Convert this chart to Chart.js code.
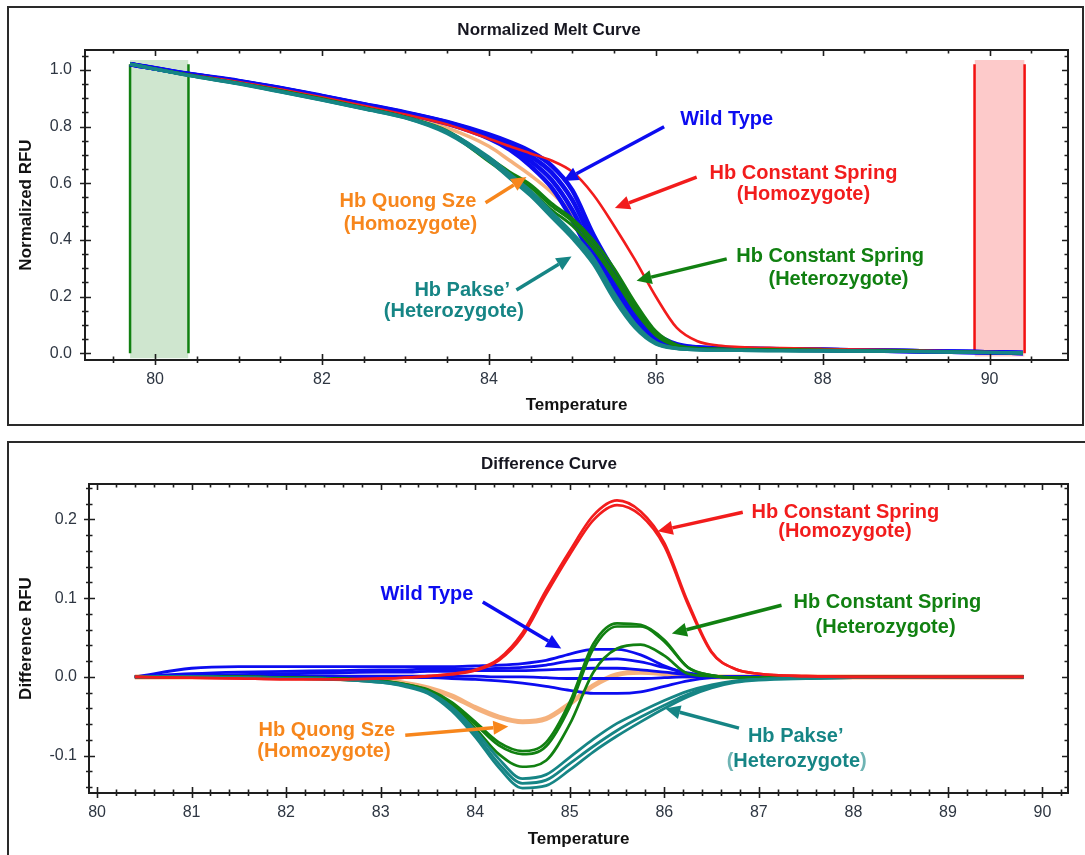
<!DOCTYPE html>
<html>
<head>
<meta charset="utf-8">
<title>Melt curves</title>
<script src="https://cdn.jsdelivr.net/npm/chart.js@4.4.1/dist/chart.umd.min.js"></script>
<style>
  html, body { margin: 0; padding: 0; background: #fff; overflow: hidden; }
  body { width: 1085px; height: 855px; position: relative; }
  .panel { position: absolute; border: 2px solid #2a2a2a; box-sizing: border-box; }
  #topPanel { left: 7px; top: 6px; width: 1077px; height: 420px; }
  #bottomPanel { left: 7px; top: 441px; width: 1100px; height: 440px; }
  canvas { position: absolute; left: 0; }
  #meltChart { top: 0; }
  #diffChart { top: 430px; }
</style>
</head>
<body>
<div class="panel" id="topPanel"></div>
<div class="panel" id="bottomPanel"></div>
<canvas id="meltChart" width="1085" height="430"></canvas>
<canvas id="diffChart" width="1085" height="425"></canvas>

<script>
const FONT = '"Liberation Sans", Arial, sans-serif';

// ---- normalized melt curve (temperature in °C) ----
const meltTemps = [79.7, 80.4, 81, 81.5, 82, 82.5, 83, 83.5, 84, 84.25, 84.5, 84.75, 85, 85.25, 85.5, 85.75, 86, 86.25, 86.5, 86.75, 87, 87.5, 88, 89, 89.8, 90.4];

const wtMelt1 = [1.020, 0.984, 0.958, 0.933, 0.905, 0.876, 0.846, 0.810, 0.758, 0.718, 0.660, 0.585, 0.470, 0.330, 0.215, 0.105, 0.042, 0.022, 0.018, 0.016, 0.015, 0.013, 0.011, 0.008, 0.004, 0.001];
const wtMelt2 = [1.020, 0.985, 0.959, 0.934, 0.906, 0.877, 0.847, 0.812, 0.763, 0.726, 0.678, 0.612, 0.505, 0.360, 0.240, 0.125, 0.050, 0.025, 0.019, 0.017, 0.015, 0.013, 0.011, 0.008, 0.004, 0.001];
const wtMelt3 = [1.020, 0.985, 0.960, 0.935, 0.907, 0.878, 0.848, 0.814, 0.767, 0.734, 0.695, 0.638, 0.540, 0.390, 0.265, 0.145, 0.060, 0.028, 0.020, 0.017, 0.016, 0.014, 0.012, 0.008, 0.004, 0.001];
const wtMelt4 = [1.021, 0.986, 0.961, 0.936, 0.908, 0.879, 0.850, 0.816, 0.772, 0.745, 0.712, 0.662, 0.575, 0.420, 0.290, 0.165, 0.070, 0.032, 0.021, 0.018, 0.016, 0.014, 0.012, 0.008, 0.004, 0.001];
const csHomoMelt = [1.020, 0.983, 0.957, 0.931, 0.903, 0.873, 0.842, 0.807, 0.757, 0.730, 0.705, 0.680, 0.640, 0.560, 0.450, 0.330, 0.200, 0.090, 0.042, 0.027, 0.022, 0.018, 0.015, 0.010, 0.005, 0.002];
const qsMelt = [1.020, 0.983, 0.956, 0.930, 0.901, 0.870, 0.838, 0.795, 0.730, 0.680, 0.628, 0.568, 0.490, 0.370, 0.240, 0.120, 0.048, 0.022, 0.016, 0.014, 0.013, 0.012, 0.010, 0.007, 0.004, 0.001];
const csHetMelt1 = [1.020, 0.982, 0.953, 0.927, 0.898, 0.867, 0.834, 0.785, 0.690, 0.640, 0.595, 0.530, 0.475, 0.400, 0.300, 0.180, 0.078, 0.030, 0.018, 0.015, 0.013, 0.012, 0.011, 0.008, 0.004, 0.001];
const csHetMelt2 = [1.020, 0.982, 0.953, 0.927, 0.897, 0.866, 0.833, 0.782, 0.683, 0.632, 0.585, 0.520, 0.465, 0.385, 0.280, 0.165, 0.070, 0.027, 0.017, 0.015, 0.013, 0.012, 0.011, 0.008, 0.004, 0.001];
const csHetMelt3 = [1.020, 0.981, 0.952, 0.926, 0.896, 0.865, 0.832, 0.780, 0.676, 0.623, 0.572, 0.506, 0.450, 0.370, 0.265, 0.150, 0.063, 0.025, 0.016, 0.014, 0.012, 0.011, 0.010, 0.007, 0.004, 0.001];
const pkMelt1 = [1.020, 0.980, 0.950, 0.922, 0.893, 0.862, 0.830, 0.775, 0.680, 0.617, 0.555, 0.480, 0.405, 0.315, 0.190, 0.090, 0.032, 0.016, 0.012, 0.010, 0.010, 0.009, 0.008, 0.006, 0.003, 0.001];
const pkMelt2 = [1.020, 0.980, 0.951, 0.923, 0.894, 0.863, 0.831, 0.779, 0.686, 0.624, 0.563, 0.489, 0.414, 0.326, 0.200, 0.097, 0.035, 0.017, 0.012, 0.010, 0.010, 0.009, 0.008, 0.006, 0.003, 0.001];
const pkMelt3 = [1.020, 0.981, 0.952, 0.924, 0.895, 0.864, 0.832, 0.783, 0.692, 0.632, 0.572, 0.498, 0.424, 0.337, 0.212, 0.105, 0.038, 0.018, 0.013, 0.011, 0.010, 0.009, 0.008, 0.006, 0.003, 0.001];

// normalization regions (pre-melt / post-melt)
const preMeltRange = [79.7, 80.4];
const postMeltRange = [89.82, 90.42];

const meltXTicks = [80, 82, 84, 86, 88, 90];
const meltYTicks = [0, 0.2, 0.4, 0.6, 0.8, 1.0];

// ---- difference curve ----
const diffTemps = [80.4, 81, 81.5, 82, 82.5, 83, 83.25, 83.5, 83.75, 84, 84.25, 84.5, 84.75, 85, 85.25, 85.5, 85.75, 86, 86.25, 86.5, 86.75, 87, 87.5, 88, 89, 89.8];

const wtDiff1 = [0, 0.011, 0.013, 0.013, 0.013, 0.013, 0.013, 0.013, 0.013, 0.014, 0.015, 0.017, 0.021, 0.029, 0.035, 0.035, 0.028, 0.014, 0.004, 0.001, 0, 0, 0, 0, 0, 0];
const wtDiff2 = [0, 0.004, 0.006, 0.007, 0.008, 0.009, 0.009, 0.010, 0.010, 0.010, 0.011, 0.012, 0.015, 0.020, 0.022, 0.023, 0.019, 0.012, 0.005, 0.001, 0, 0, 0, 0, 0, 0];
const wtDiff3 = [0, 0.002, 0.003, 0.004, 0.005, 0.006, 0.006, 0.007, 0.007, 0.008, 0.008, 0.008, 0.009, 0.010, 0.011, 0.011, 0.009, 0.006, 0.003, 0.001, 0, 0, 0, 0, 0, 0];
const wtDiff4 = [0, 0, 0, 0.001, 0.001, 0.001, 0.001, 0.001, 0.001, 0.001, 0, 0, -0.001, -0.002, -0.002, -0.002, -0.002, -0.001, 0, 0, 0, 0, 0, 0, 0, 0];
const wtDiff5 = [0, 0, 0, 0, 0, -0.001, -0.001, -0.001, -0.002, -0.003, -0.005, -0.008, -0.012, -0.017, -0.021, -0.021, -0.019, -0.012, -0.005, -0.001, 0, 0, 0, 0, 0, 0];
const csHomoDiff1 = [0, -0.001, -0.002, -0.003, -0.003, -0.002, -0.001, 0.001, 0.004, 0.009, 0.023, 0.056, 0.110, 0.160, 0.205, 0.224, 0.210, 0.170, 0.095, 0.032, 0.010, 0.004, 0.001, 0, 0, 0];
const csHomoDiff2 = [0, -0.001, -0.002, -0.003, -0.003, -0.002, -0.001, 0.001, 0.003, 0.008, 0.021, 0.052, 0.105, 0.155, 0.199, 0.218, 0.205, 0.166, 0.092, 0.031, 0.010, 0.004, 0.001, 0, 0, 0];
const qsDiff = [0, 0, 0, -0.001, -0.002, -0.005, -0.008, -0.014, -0.024, -0.039, -0.051, -0.057, -0.053, -0.034, -0.011, 0.003, 0.006, 0.004, 0.001, 0, 0, 0, 0, 0, 0, 0];
const csHetDiff1 = [0, 0, 0, -0.001, -0.002, -0.005, -0.009, -0.016, -0.032, -0.057, -0.083, -0.094, -0.083, -0.032, 0.042, 0.068, 0.066, 0.047, 0.012, 0.002, -0.001, -0.001, 0, 0, 0, 0];
const csHetDiff2 = [0, 0, 0, -0.001, -0.002, -0.005, -0.009, -0.017, -0.034, -0.060, -0.087, -0.098, -0.088, -0.038, 0.036, 0.064, 0.064, 0.045, 0.012, 0.002, -0.001, -0.001, 0, 0, 0, 0];
const csHetDiff3 = [0, 0, 0, -0.001, -0.002, -0.005, -0.010, -0.018, -0.036, -0.065, -0.098, -0.114, -0.106, -0.060, 0.006, 0.036, 0.041, 0.027, 0.004, 0.001, -0.001, -0.001, 0, 0, 0, 0];
const pkDiff1 = [0, 0, -0.001, -0.002, -0.003, -0.007, -0.012, -0.021, -0.043, -0.076, -0.115, -0.141, -0.138, -0.118, -0.095, -0.075, -0.057, -0.040, -0.025, -0.014, -0.007, -0.004, -0.002, -0.001, 0, 0];
const pkDiff2 = [0, 0, -0.001, -0.002, -0.003, -0.007, -0.011, -0.020, -0.040, -0.072, -0.110, -0.135, -0.131, -0.110, -0.088, -0.068, -0.051, -0.036, -0.022, -0.012, -0.006, -0.003, -0.002, -0.001, 0, 0];
const pkDiff3 = [0, 0, -0.001, -0.002, -0.003, -0.006, -0.010, -0.019, -0.038, -0.068, -0.104, -0.129, -0.124, -0.102, -0.079, -0.059, -0.044, -0.030, -0.018, -0.010, -0.005, -0.003, -0.001, -0.001, 0, 0];

const diffXTicks = [80, 81, 82, 83, 84, 85, 86, 87, 88, 89, 90];
const diffYTicks = [-0.1, 0, 0.1, 0.2];

// ---- colours ----
const C = {
  blue: '#0c0cf0',
  red: '#f21c1c',
  green: '#118011',
  teal: '#168585',
  orangeLine: 'rgba(244,168,110,0.9)',
  orangeText: '#f7861c',
  tealLight: '#6fb4b4'
};

const pts = (temps, vals) => temps.map((t, i) => ({ x: t, y: vals[i] }));

function curve(temps, vals, color, width) {
  return {
    data: pts(temps, vals),
    borderColor: color,
    borderWidth: width || 2.6,
    pointRadius: 0,
    fill: false,
    cubicInterpolationMode: 'monotone'
  };
}

// frame + major/minor tick marks on all four sides
const frameTicks = {
  id: 'frameTicks',
  afterDatasetsDraw(chart, args, opts) {
    const { ctx, chartArea: a, scales: { x, y } } = chart;
    const steps = (scale, step) => {
      const out = [];
      for (let k = Math.ceil(scale.min / step - 1e-9); k * step <= scale.max + 1e-9; k++) out.push(k * step);
      return out;
    };
    const isMajor = (v, list) => list.some(m => Math.abs(m - v) < 1e-6);
    ctx.save();
    ctx.strokeStyle = '#1e1e1e';
    ctx.lineWidth = 2;
    ctx.strokeRect(a.left, a.top, a.right - a.left, a.bottom - a.top);
    ctx.lineWidth = 1.6;
    ctx.beginPath();
    steps(x, opts.xStep).forEach(v => {
      const px = Math.round(x.getPixelForValue(v)) + 0.5;
      const major = isMajor(v, opts.xMajor);
      const inn = major ? 6 : 3.5, out = major ? 5 : 3;
      ctx.moveTo(px, a.bottom + out); ctx.lineTo(px, a.bottom - inn);
      ctx.moveTo(px, a.top - 1); ctx.lineTo(px, a.top + inn);
    });
    steps(y, opts.yStep).forEach(v => {
      const py = Math.round(y.getPixelForValue(v)) + 0.5;
      const major = isMajor(v, opts.yMajor);
      const inn = major ? 6 : 3.5, out = major ? 5 : 3;
      ctx.moveTo(a.left - out, py); ctx.lineTo(a.left + inn, py);
      ctx.moveTo(a.right + 1, py); ctx.lineTo(a.right - inn, py);
    });
    ctx.stroke();
    ctx.restore();
  }
};

function drawArrow(ctx, x1, y1, x2, y2, color) {
  const ang = Math.atan2(y2 - y1, x2 - x1);
  const head = 15, half = 7;
  const bx = x2 - head * Math.cos(ang), by = y2 - head * Math.sin(ang);
  ctx.strokeStyle = color;
  ctx.lineWidth = 3.5;
  ctx.beginPath();
  ctx.moveTo(x1, y1);
  ctx.lineTo(bx, by);
  ctx.stroke();
  ctx.fillStyle = color;
  ctx.beginPath();
  ctx.moveTo(x2, y2);
  ctx.lineTo(bx + half * Math.sin(ang), by - half * Math.cos(ang));
  ctx.lineTo(bx - half * Math.sin(ang), by + half * Math.cos(ang));
  ctx.closePath();
  ctx.fill();
}

// panel title, genotype labels and arrows, placed in data coordinates
const callouts = {
  id: 'callouts',
  afterDraw(chart, args, opts) {
    const { ctx, scales: { x, y } } = chart;
    ctx.save();
    ctx.font = 'bold 17px ' + FONT;
    ctx.fillStyle = '#161620';
    ctx.textAlign = 'center';
    ctx.textBaseline = 'middle';
    ctx.fillText(opts.title, opts.titleX, opts.titleY);

    ctx.font = 'bold 20px ' + FONT;
    opts.notes.forEach(n => {
      const px = x.getPixelForValue(n.t), py = y.getPixelForValue(n.v);
      if (n.parenColor) {
        const inner = n.text.slice(1, -1);
        const wp = ctx.measureText('(').width, wi = ctx.measureText(inner).width;
        const left = px - (wi + 2 * wp) / 2;
        ctx.textAlign = 'left';
        ctx.fillStyle = n.parenColor;
        ctx.fillText('(', left, py);
        ctx.fillText(')', left + wp + wi, py);
        ctx.fillStyle = n.color;
        ctx.fillText(inner, left + wp, py);
        ctx.textAlign = 'center';
      } else {
        ctx.fillStyle = n.color;
        ctx.fillText(n.text, px, py);
      }
    });
    opts.arrows.forEach(a => {
      drawArrow(ctx, x.getPixelForValue(a.from[0]), y.getPixelForValue(a.from[1]),
        x.getPixelForValue(a.to[0]), y.getPixelForValue(a.to[1]), a.color);
    });
    ctx.restore();
  }
};

const meltNotes = [
  { text: 'Wild Type', t: 86.85, v: 0.824, color: C.blue },
  { text: 'Hb Constant Spring', t: 87.77, v: 0.635, color: C.red },
  { text: '(Homozygote)', t: 87.77, v: 0.559, color: C.red },
  { text: 'Hb Constant Spring', t: 88.09, v: 0.341, color: C.green },
  { text: '(Heterozygote)', t: 88.19, v: 0.259, color: C.green },
  { text: 'Hb Quong Sze', t: 83.03, v: 0.534, color: C.orangeText },
  { text: '(Homozygote)', t: 83.06, v: 0.453, color: C.orangeText },
  { text: 'Hb Pakse\u2019', t: 83.68, v: 0.223, color: C.teal },
  { text: '(Heterozygote)', t: 83.58, v: 0.146, color: C.teal }
];
const meltArrows = [
  { from: [86.10, 0.799], to: [84.89, 0.608], color: C.blue },
  { from: [86.49, 0.621], to: [85.51, 0.512], color: C.red },
  { from: [86.85, 0.333], to: [85.77, 0.256], color: C.green },
  { from: [83.96, 0.531], to: [84.45, 0.622], color: C.orangeText },
  { from: [84.33, 0.223], to: [84.99, 0.341], color: C.teal }
];

const diffNotes = [
  { text: 'Hb Constant Spring', t: 87.915, v: 0.209, color: C.red },
  { text: '(Homozygote)', t: 87.91, v: 0.184, color: C.red },
  { text: 'Hb Constant Spring', t: 88.36, v: 0.094, color: C.green },
  { text: '(Heterozygote)', t: 88.34, v: 0.063, color: C.green },
  { text: 'Wild Type', t: 83.49, v: 0.104, color: C.blue },
  { text: 'Hb Quong Sze', t: 82.43, v: -0.068, color: C.orangeText },
  { text: '(Homozygote)', t: 82.40, v: -0.095, color: C.orangeText },
  { text: 'Hb Pakse\u2019', t: 87.39, v: -0.075, color: C.teal },
  { text: '(Heterozygote)', t: 87.40, v: -0.107, color: C.teal, parenColor: C.tealLight }
];
const diffArrows = [
  { from: [86.83, 0.209], to: [85.93, 0.185], color: C.red },
  { from: [87.24, 0.091], to: [86.08, 0.055], color: C.green },
  { from: [84.08, 0.095], to: [84.91, 0.036], color: C.blue },
  { from: [83.26, -0.074], to: [84.35, -0.063], color: C.orangeText },
  { from: [86.79, -0.065], to: [86.01, -0.040], color: C.teal }
];

function axes(cfg) {
  return {
    x: {
      type: 'linear',
      min: cfg.xMin, max: cfg.xMax,
      afterBuildTicks: s => { s.ticks = cfg.xTicks.map(v => ({ value: v })); },
      afterFit: s => { s.height = cfg.xHeight; },
      grid: { display: false, drawTicks: false },
      border: { display: false },
      ticks: {
        autoSkip: false, maxRotation: 0, padding: 10,
        color: '#2e3642', font: { size: 16, family: FONT },
        callback: v => String(v)
      },
      title: {
        display: true, text: 'Temperature', color: '#111',
        font: { size: 17, weight: 'bold', family: FONT },
        padding: { top: 0, bottom: cfg.xTitlePad }
      }
    },
    y: {
      type: 'linear',
      min: cfg.yMin, max: cfg.yMax,
      afterBuildTicks: s => { s.ticks = cfg.yTicks.map(v => ({ value: v })); },
      afterFit: s => { s.width = cfg.yWidth; },
      grid: { display: false, drawTicks: false },
      border: { display: false },
      ticks: {
        autoSkip: false, padding: cfg.yTickPad,
        color: '#2e3642', font: { size: 16, family: FONT },
        callback: v => Number(v).toFixed(1)
      },
      title: {
        display: true, text: cfg.yTitle, color: '#111',
        font: { size: 17, weight: 'bold', family: FONT },
        padding: { top: 16.5, bottom: 0 }
      }
    }
  };
}

const common = {
  responsive: false,
  animation: false,
  events: [],
  parsing: false
};

new Chart(document.getElementById('meltChart'), {
  type: 'line',
  data: {
    datasets: [
      curve(meltTemps, pkMelt1, C.teal, 3.2),
      curve(meltTemps, pkMelt2, C.teal, 3.2),
      curve(meltTemps, pkMelt3, C.teal, 3.2),
      curve(meltTemps, csHetMelt1, C.green, 2.8),
      curve(meltTemps, csHetMelt2, C.green, 2.8),
      curve(meltTemps, csHetMelt3, C.green, 2.8),
      curve(meltTemps, csHomoMelt, C.red, 2.6),
      curve(meltTemps, wtMelt1, C.blue, 4.5),
      curve(meltTemps, wtMelt2, C.blue, 4.5),
      curve(meltTemps, wtMelt3, C.blue, 4.5),
      curve(meltTemps, wtMelt4, C.blue, 4.5),
      curve(meltTemps, qsMelt, C.orangeLine, 3.5),
      // region boundary markers
      { data: [{ x: preMeltRange[0], y: 0 }, { x: preMeltRange[0], y: 1.02 }], borderColor: '#118011', borderWidth: 2.5, pointRadius: 0 },
      { data: [{ x: preMeltRange[1], y: 0 }, { x: preMeltRange[1], y: 1.02 }], borderColor: '#118011', borderWidth: 2.5, pointRadius: 0 },
      { data: [{ x: postMeltRange[0], y: 0 }, { x: postMeltRange[0], y: 1.02 }], borderColor: '#f21010', borderWidth: 2.5, pointRadius: 0 },
      { data: [{ x: postMeltRange[1], y: 0 }, { x: postMeltRange[1], y: 1.02 }], borderColor: '#f21010', borderWidth: 2.5, pointRadius: 0 },
      // shaded regions
      { data: [{ x: preMeltRange[0], y: 1.035 }, { x: preMeltRange[1], y: 1.035 }], borderWidth: 0, pointRadius: 0, fill: { value: -0.018 }, backgroundColor: '#cfe6cf' },
      { data: [{ x: postMeltRange[0], y: 1.035 }, { x: postMeltRange[1], y: 1.035 }], borderWidth: 0, pointRadius: 0, fill: { value: -0.012 }, backgroundColor: '#fdcaca' }
    ]
  },
  options: {
    ...common,
    layout: { padding: { left: 0, top: 50, right: 17, bottom: 0 } },
    scales: axes({
      xMin: 79.16, xMax: 90.94, xTicks: meltXTicks, xHeight: 70, xTitlePad: 14,
      yMin: -0.024, yMax: 1.07, yTicks: meltYTicks, yWidth: 85, yTickPad: 13,
      yTitle: 'Normalized RFU'
    }),
    plugins: {
      legend: { display: false },
      tooltip: { enabled: false },
      frameTicks: { xStep: 0.5, yStep: 0.05, xMajor: meltXTicks, yMajor: meltYTicks },
      callouts: { title: 'Normalized Melt Curve', titleX: 549, titleY: 30, notes: meltNotes, arrows: meltArrows }
    }
  },
  plugins: [frameTicks, callouts]
});

new Chart(document.getElementById('diffChart'), {
  type: 'line',
  data: {
    datasets: [
      curve(diffTemps, csHomoDiff1, C.red, 2.6),
      curve(diffTemps, csHomoDiff2, C.red, 2.6),
      curve(diffTemps, pkDiff1, C.teal, 2.8),
      curve(diffTemps, pkDiff2, C.teal, 2.8),
      curve(diffTemps, pkDiff3, C.teal, 2.8),
      curve(diffTemps, csHetDiff1, C.green, 2.7),
      curve(diffTemps, csHetDiff2, C.green, 2.7),
      curve(diffTemps, csHetDiff3, C.green, 2.7),
      curve(diffTemps, wtDiff1, C.blue, 2.8),
      curve(diffTemps, wtDiff2, C.blue, 2.8),
      curve(diffTemps, wtDiff3, C.blue, 2.8),
      curve(diffTemps, wtDiff4, C.blue, 2.8),
      curve(diffTemps, wtDiff5, C.blue, 2.8),
      curve(diffTemps, qsDiff, C.orangeLine, 5)
    ]
  },
  options: {
    ...common,
    layout: { padding: { left: 0, top: 54, right: 17, bottom: 0 } },
    scales: axes({
      xMin: 79.915, xMax: 90.27, xTicks: diffXTicks, xHeight: 62, xTitlePad: 5,
      yMin: -0.1473, yMax: 0.2448, yTicks: diffYTicks, yWidth: 89, yTickPad: 12,
      yTitle: 'Difference RFU'
    }),
    plugins: {
      legend: { display: false },
      tooltip: { enabled: false },
      frameTicks: { xStep: 0.2, yStep: 0.02, xMajor: diffXTicks, yMajor: diffYTicks },
      callouts: { title: 'Difference Curve', titleX: 549, titleY: 34, notes: diffNotes, arrows: diffArrows }
    }
  },
  plugins: [frameTicks, callouts]
});
</script>
</body>
</html>
